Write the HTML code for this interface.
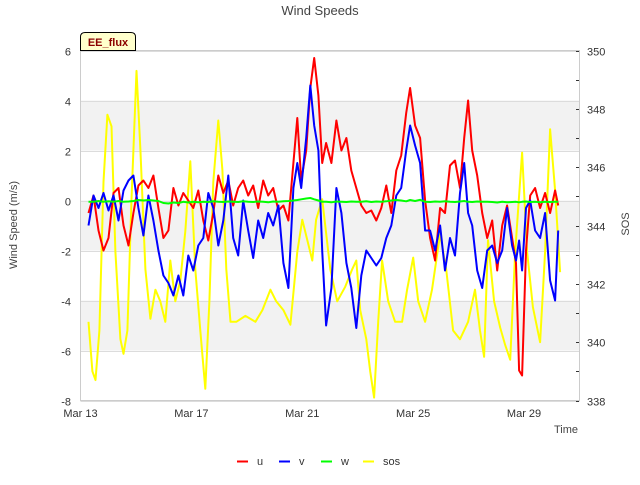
<!DOCTYPE html>
<html><head><meta charset="utf-8"><style>
body{margin:0;background:#fff;}
svg text{font-family:"Liberation Sans","DejaVu Sans",sans-serif;}
</style></head><body>
<svg id="chart" width="640" height="480" viewBox="0 0 640 480" xmlns="http://www.w3.org/2000/svg">
<text x="320" y="15" text-anchor="middle" font-size="13" fill="#444">Wind Speeds</text>
<g id="bands"></g>
<g id="grid"></g>
<rect x="80.5" y="50.5" width="499" height="350" fill="none" stroke="#ccc"/>
<g id="series"></g>
<g id="axes"></g>
<text transform="translate(17,225) rotate(-90)" text-anchor="middle" font-size="11" fill="#444">Wind Speed (m/s)</text>
<text transform="translate(629,224) rotate(-90)" text-anchor="middle" font-size="11" fill="#444">SOS</text>
<text x="578" y="433" text-anchor="end" font-size="11" fill="#444">Time</text>
<g>
<path d="M80.5,50.5 V37 Q80.5,32.5 85,32.5 H131 Q135.5,32.5 135.5,37 V50.5 Z" fill="#ffffcc" stroke="#000"/>
<text x="108" y="46" text-anchor="middle" font-size="11" font-weight="bold" fill="#8b0000">EE_flux</text>
</g>
<g id="legend"></g>
</svg>
<script>
const yTicks=[6,4,2,0,-2,-4,-6,-8];
const rightTicks=[350,348,346,344,342,340,338];
const xTickDays=[0,4,8,12,16];
const xTickLabels=["Mar 13","Mar 17","Mar 21","Mar 25","Mar 29"];
const shadedBands=[[2,4],[-2,0],[-6,-4]];
const timeDays=[0.29,0.47,0.65,0.83,1.01,1.19,1.37,1.55,1.73,1.91,
2.09,2.27,2.45,2.63,2.81,2.99,3.17,3.35,3.53,3.71,
3.89,4.07,4.25,4.43,4.61,4.79,4.97,5.15,5.33,5.51,
5.69,5.87,6.05,6.23,6.41,6.59,6.77,6.95,7.14,7.32,
7.50,7.68,7.82,7.96,8.14,8.29,8.43,8.58,8.72,8.86,
9.05,9.23,9.41,9.59,9.77,9.95,10.13,10.31,10.49,10.67,
10.85,11.03,11.21,11.39,11.57,11.75,11.89,12.07,12.25,12.43,
12.61,12.79,12.97,13.15,13.33,13.51,13.69,13.84,13.98,14.13,
14.31,14.49,14.67,14.85,15.03,15.21,15.39,15.57,15.71,15.82,
15.93,16.07,16.22,16.40,16.58,16.76,16.94,17.12,17.23];
const uValues=[-0.5,0.2,-1.2,-2.0,-1.5,0.3,0.5,-1.0,-1.8,-0.5,
0.6,0.8,0.5,1.0,-0.3,-1.5,-1.2,0.5,-0.2,0.3,
0.0,-0.3,0.4,-0.8,-1.6,-0.5,1.0,0.3,0.8,-0.2,
0.5,0.8,0.2,0.6,-0.3,0.8,0.2,0.5,-0.4,-0.2,
-0.8,1.5,3.3,0.8,2.0,4.5,5.7,4.2,1.5,2.3,
1.5,3.2,2.0,2.5,1.2,0.5,-0.2,-0.5,-0.4,-0.8,
-0.3,0.6,-0.5,1.2,1.8,3.5,4.5,3.0,2.5,0.0,
-1.5,-2.4,-0.3,-0.5,1.4,1.6,0.5,2.5,4.0,2.0,
1.0,-0.5,-1.5,-0.8,-2.8,-1.0,-0.2,-1.5,-2.5,-6.8,
-7.0,-2.0,0.2,0.5,-0.3,0.3,-0.5,0.4,-0.2];
const vValues=[-1.0,0.2,-0.3,0.3,-0.4,0.2,-0.8,0.4,0.8,1.0,
-0.3,-1.4,0.2,-0.8,-2.0,-3.0,-3.3,-3.8,-3.0,-3.8,
-2.2,-2.8,-1.8,-1.5,0.3,-0.3,-1.8,-0.8,1.0,-1.5,
-2.2,0.0,-1.2,-2.3,-0.8,-1.5,-0.5,-1.0,-0.2,-2.5,
-3.5,0.5,1.5,0.5,2.5,4.6,3.0,2.0,-2.0,-5.0,
-3.5,0.5,-0.5,-2.5,-3.5,-5.1,-3.0,-2.0,-2.3,-2.6,
-2.3,-1.5,-1.0,0.2,0.5,2.0,3.0,2.2,1.5,-1.2,
-1.2,-2.0,-1.0,-2.8,-1.5,-2.2,0.3,1.5,-0.5,-1.0,
-2.8,-3.5,-2.0,-1.8,-2.5,-2.0,-0.3,-1.8,-2.4,-1.6,
-2.8,-0.3,0.0,-1.2,-1.5,-0.5,-3.2,-4.0,-1.2];
const wValues=[-0.05,-0.05,-0.02,-0.05,-0.03,-0.05,-0.02,-0.05,-0.04,-0.02,
0.02,0.0,0.02,0.0,-0.02,-0.1,-0.12,-0.08,-0.1,-0.05,
-0.08,-0.05,-0.07,-0.05,-0.06,-0.03,-0.05,-0.06,-0.04,-0.05,
-0.06,-0.03,-0.05,-0.06,-0.04,-0.05,-0.07,-0.04,-0.05,-0.03,
-0.02,0.0,0.02,0.05,0.08,0.1,0.05,0.0,-0.05,-0.05,
-0.07,-0.04,-0.05,-0.06,-0.04,-0.05,-0.05,-0.03,-0.06,-0.04,
-0.05,-0.03,0.0,0.02,0.0,-0.03,0.02,-0.02,0.03,-0.05,
-0.06,-0.04,-0.05,-0.03,-0.05,-0.06,-0.04,-0.02,-0.05,-0.06,
-0.04,-0.05,-0.05,-0.06,-0.08,-0.05,-0.07,-0.06,-0.05,-0.07,
-0.05,-0.04,-0.06,-0.05,-0.07,-0.05,-0.06,-0.05,-0.05];
const sosDays=[0.29,0.43,0.54,0.68,0.83,0.97,1.12,1.26,1.44,1.55,
1.69,1.84,2.02,2.16,2.34,2.52,2.70,2.88,3.06,3.24,
3.42,3.60,3.78,3.96,4.14,4.32,4.50,4.65,4.79,4.97,
5.12,5.26,5.41,5.62,5.95,6.31,6.56,6.85,7.06,7.32,
7.57,7.82,8.00,8.18,8.36,8.50,8.72,9.01,9.26,9.55,
9.80,9.95,10.09,10.31,10.45,10.59,10.74,10.88,11.10,11.35,
11.60,11.78,12.00,12.18,12.43,12.68,12.97,13.19,13.44,13.69,
13.98,14.23,14.41,14.56,14.70,14.92,15.14,15.32,15.50,15.68,
15.93,16.11,16.32,16.58,16.76,16.94,17.12,17.30];
const sosValues=[340.7,339.0,338.7,340.4,345.5,347.8,347.4,343.1,340.1,339.6,
340.4,344.9,349.3,346.6,342.5,340.8,341.8,341.4,340.7,342.8,
341.4,342.1,343.8,346.2,342.5,340.4,338.4,341.4,345.5,347.6,
345.9,342.5,340.7,340.7,340.9,340.7,341.1,341.8,341.4,341.1,
340.6,343.1,344.2,343.5,342.8,344.2,344.9,342.5,341.4,341.9,
342.5,342.8,341.1,340.1,339.0,338.1,340.7,342.8,341.4,340.7,
340.7,341.8,342.9,341.4,340.7,341.8,343.7,342.5,340.4,340.1,
340.7,341.8,340.4,339.5,343.5,341.4,340.5,339.9,339.4,343.1,
346.5,343.1,341.2,340.0,343.1,347.3,345.2,342.4];

const X0=80.5,X1=579.5,Y0=50.5,Y1=400.5;
const DAYSPAN=18.0;
function xScale(d){return X0+(d/DAYSPAN)*(X1-X0);}
function yScale(v){return Y0+(6-v)/14*(Y1-Y0);}
function ySos(v){return Y0+(350-v)/12*(Y1-Y0);}
const NS="http://www.w3.org/2000/svg";
function mk(tag,attrs,parent){const e=document.createElementNS(NS,tag);for(const k in attrs)e.setAttribute(k,attrs[k]);parent.appendChild(e);return e;}
const bands=document.getElementById('bands'),grid=document.getElementById('grid'),axes=document.getElementById('axes'),series=document.getElementById('series'),legend=document.getElementById('legend');
shadedBands.forEach(b=>{const r=mk('rect',{x:X0,y:yScale(b[1]),width:X1-X0,height:yScale(b[0])-yScale(b[1]),fill:'#f2f2f2'},bands);

});
yTicks.forEach(v=>{const y=Math.round(yScale(v))+0.5;
const l=mk('line',{x1:X0,x2:X1,y1:y,y2:y,stroke:'#dcdcdc'},grid);


const t=mk('text',{x:71,y:y+4,'text-anchor':'end','font-size':11,fill:'#333'},axes);t.textContent=v;

});
for(let v=338;v<=350;v++){const y=Math.round(ySos(v))+0.5;
const l=mk('line',{x1:576,x2:579,y1:y,y2:y,stroke:'#333'},axes);

}
rightTicks.forEach(v=>{const y=Math.round(ySos(v))+0.5;
const t=mk('text',{x:587,y:y+4,'font-size':11,fill:'#333'},axes);t.textContent=v;

});
xTickDays.forEach((d,i)=>{const t=mk('text',{x:xScale(d),y:417,'text-anchor':'middle','font-size':11,fill:'#333'},axes);t.textContent=xTickLabels[i];

});
function line(times,vals,ys,color,name){let d='';const n=Math.min(times.length,vals.length);
for(let i=0;i<n;i++){d+=(i?'L':'M')+xScale(times[i]).toFixed(1)+','+ys(vals[i]).toFixed(1);}
const p=mk('path',{d:d,fill:'none',stroke:color,'stroke-width':2,'stroke-linejoin':'round'},series);

}
line(sosDays,sosValues,ySos,'#ffff00','sos-line');
line(timeDays,uValues,yScale,'#ff0000','u-line');
line(timeDays,vValues,yScale,'#0000ff','v-line');
line(timeDays,wValues,yScale,'#00ff00','w-line');
const legendNames=['u','v','w','sos'];
const legendColors=['#ff0000','#0000ff','#00ff00','#ffff00'];
const legendX=[237,279,321,363];
legendNames.forEach((n,i)=>{const g=mk('g',{},legend);


mk('line',{x1:legendX[i],x2:legendX[i]+11,y1:461.5,y2:461.5,stroke:legendColors[i],'stroke-width':2},g);
const t=mk('text',{x:legendX[i]+20,y:465,'font-size':11,fill:'#333'},g);t.textContent=n;});
</script>
</body></html>
